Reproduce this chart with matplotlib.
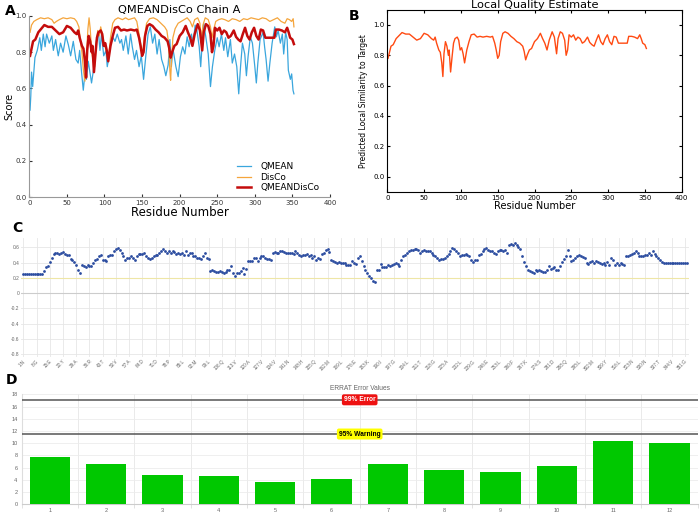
import numpy as np
import matplotlib
matplotlib.use('Agg')
import matplotlib.pyplot as plt

# ---- Panel A / B : per-residue quality ----
qd_res = [1, 2, 5, 8, 12, 16, 20, 25, 30, 35, 40, 45, 50, 55, 60, 63, 65, 67, 70, 72,
          74, 75.5, 77, 79, 81, 83, 84, 86, 88, 90, 92, 95, 97, 99, 101, 103, 105, 108, 111, 114,
          118, 122, 126, 130, 135, 140, 143, 146, 148, 150, 152, 154, 157, 160, 164, 168, 172, 176, 180, 184,
          186, 188, 190, 193, 196, 200, 204, 208, 211, 214, 217, 220, 224, 227, 230, 232, 235, 238, 241, 243,
          245, 247, 250, 253, 256, 259, 262, 265, 268, 272, 275, 278, 281, 284, 287, 290, 293, 296, 299, 302,
          305, 308, 311, 314, 318, 322, 326, 328, 332, 336, 340, 343, 345, 347, 350, 352]
qd_val = [0.78, 0.80, 0.86, 0.87, 0.91, 0.93, 0.95, 0.94, 0.94, 0.92, 0.90, 0.91, 0.945, 0.935, 0.91, 0.90, 0.92, 0.88, 0.835, 0.82,
          0.75, 0.66, 0.81, 0.89, 0.86, 0.80, 0.835, 0.69, 0.79, 0.88, 0.91, 0.92, 0.90, 0.835, 0.85, 0.81, 0.75, 0.835, 0.89, 0.935,
          0.94, 0.92, 0.925, 0.92, 0.925, 0.92, 0.925, 0.88, 0.835, 0.78, 0.80, 0.89, 0.945, 0.955, 0.945, 0.925, 0.91, 0.89, 0.88, 0.86,
          0.825, 0.77, 0.80, 0.835, 0.845, 0.89, 0.91, 0.945, 0.91, 0.88, 0.835, 0.90, 0.955, 0.92, 0.81, 0.91, 0.955, 0.945, 0.90, 0.80,
          0.835, 0.935, 0.92, 0.935, 0.90, 0.92, 0.91, 0.88, 0.89, 0.92, 0.885, 0.87, 0.86, 0.90, 0.935, 0.89, 0.87, 0.91, 0.935, 0.89,
          0.87, 0.925, 0.92, 0.88, 0.88, 0.88, 0.88, 0.925, 0.925, 0.92, 0.91, 0.935, 0.91, 0.88, 0.87, 0.845]

qmean_res = [1, 2, 3, 4.5, 7.5, 10.6, 14, 16, 18.6, 21, 23, 26.6, 30, 32, 35, 38.5, 41.6, 45, 48.7, 52,
             55, 58.5, 62, 65, 67, 69.5, 71.8, 74, 76, 78.4, 80.6, 82.8, 86, 89.5, 92, 94, 96, 99, 102, 103.7,
             105.4, 108, 111.6, 114, 117, 120.5, 122.7, 125, 128.5, 131.6, 134.7, 137, 140, 142.6, 146, 149, 152, 155, 158, 161,
             164, 167, 170, 172.7, 176, 179, 181.6, 184.7, 187, 189, 191, 195, 198, 201, 204, 207, 210, 212.6, 215.7, 218,
             220.6, 223, 226, 228, 230, 232, 234.8, 238, 241, 243.6, 246.7, 250, 252.5, 255.6, 258.7, 261, 264, 267.5, 270, 273,
             276, 278.6, 281, 283.5, 286.6, 288.8, 291, 294, 296.8, 300, 302, 304, 307, 311, 313, 315, 317.6, 320, 323, 326.5,
             328.7, 331, 334, 336.6, 338.4, 341, 343, 344.6, 347.3, 349, 350.8, 352]
qmean_val = [0.48, 0.56, 0.69, 0.61, 0.77, 0.81, 0.88, 0.81, 0.90, 0.83, 0.90, 0.85, 0.89, 0.81, 0.87, 0.78, 0.85, 0.80, 0.89, 0.84,
             0.78, 0.86, 0.76, 0.74, 0.81, 0.69, 0.59, 0.68, 0.65, 0.75, 0.69, 0.63, 0.72, 0.87, 0.91, 0.81, 0.90, 0.78, 0.81, 0.72,
             0.76, 0.84, 0.88, 0.86, 0.90, 0.85, 0.87, 0.81, 0.89, 0.79, 0.90, 0.83, 0.76, 0.81, 0.72, 0.78, 0.65, 0.78, 0.90, 0.94,
             0.85, 0.90, 0.79, 0.87, 0.76, 0.72, 0.67, 0.73, 0.87, 0.72, 0.82, 0.72, 0.665, 0.775, 0.83, 0.79, 0.885, 0.83, 0.90, 0.85,
             0.95, 0.92, 0.83, 0.72, 0.85, 0.96, 0.885, 0.79, 0.61, 0.72, 0.81, 0.88, 0.83, 0.90, 0.81, 0.88, 0.775, 0.87, 0.74, 0.79,
             0.72, 0.57, 0.72, 0.85, 0.79, 0.67, 0.775, 0.885, 0.85, 0.72, 0.63, 0.74, 0.87, 0.91, 0.83, 0.76, 0.64, 0.74, 0.85, 0.94,
             0.885, 0.92, 0.85, 0.90, 0.79, 0.91, 0.87, 0.70, 0.65, 0.68, 0.59, 0.57]

disco_res = [1, 3, 6, 10, 15, 20, 25, 30, 33, 36, 40, 45, 50, 55, 60, 63, 66, 68, 70, 72,
             74, 76, 78, 79.5, 81, 83, 85, 87, 89, 91, 93, 95, 97, 100, 103, 105, 108, 111, 114, 118,
             124, 128, 132, 136, 140, 143, 146, 149, 151, 153, 156, 160, 165, 170, 175, 180, 183, 185, 187, 188,
             189, 191, 194, 198, 202, 206, 210, 214, 217, 220, 224, 227, 229, 231, 234, 238, 241, 243, 245, 248,
             252, 256, 260, 265, 270, 275, 280, 285, 290, 295, 300, 305, 310, 315, 320, 325, 330, 335, 340, 343,
             346, 349, 351, 352]
disco_val = [0.91, 0.95, 0.97, 0.98, 0.99, 0.985, 0.99, 0.98, 0.96, 0.97, 0.98, 0.99, 0.985, 0.99, 0.985, 0.97, 0.94, 0.86, 0.80, 0.70,
             0.64, 0.78, 0.93, 0.99, 0.93, 0.80, 0.75, 0.72, 0.85, 0.92, 0.89, 0.94, 0.90, 0.84, 0.80, 0.75, 0.88, 0.96, 0.98, 0.99,
             0.98, 0.99, 0.98, 0.985, 0.99, 0.97, 0.90, 0.82, 0.80, 0.88, 0.96, 0.985, 0.99, 0.98, 0.96, 0.94, 0.92, 0.86, 0.70, 0.645,
             0.74, 0.88, 0.93, 0.96, 0.97, 0.98, 0.99, 0.97, 0.94, 0.98, 0.99, 0.96, 0.86, 0.95, 0.99, 0.98, 0.94, 0.88, 0.92, 0.97,
             0.98, 0.985, 0.98, 0.97, 0.985, 0.98, 0.97, 0.985, 0.98, 0.99, 0.985, 0.98, 0.99, 0.985, 0.97, 0.98, 0.99, 0.97, 0.96, 0.985,
             0.98, 0.97, 0.985, 0.94]

# ---- Panel C : averaged 3D-1D score per residue ----
c_vals = [0.25, 0.25, 0.25, 0.25, 0.25, 0.25, 0.25, 0.25, 0.25, 0.25, 0.25,
          0.29, 0.34, 0.355, 0.41, 0.465, 0.51, 0.53,
          0.53, 0.51, 0.52, 0.54, 0.51, 0.50, 0.50,
          0.45, 0.44, 0.41, 0.37, 0.30, 0.27, 0.37,
          0.355, 0.34, 0.37, 0.35, 0.35, 0.40, 0.43,
          0.445, 0.48, 0.50, 0.43, 0.43, 0.425, 0.48,
          0.495, 0.50, 0.545, 0.58, 0.585, 0.565, 0.53,
          0.48, 0.435, 0.455, 0.465, 0.48, 0.455, 0.435,
          0.48, 0.51, 0.51, 0.51, 0.53, 0.48, 0.455,
          0.445, 0.455, 0.49, 0.50, 0.50, 0.52, 0.545,
          0.575, 0.545, 0.52, 0.545, 0.53, 0.545, 0.535,
          0.51, 0.53, 0.51, 0.52, 0.50, 0.545, 0.50,
          0.53, 0.52, 0.48, 0.49, 0.465, 0.455, 0.445,
          0.49, 0.53, 0.455, 0.445, 0.295, 0.30, 0.295,
          0.28, 0.28, 0.29, 0.28, 0.27, 0.28, 0.30,
          0.30, 0.35, 0.27, 0.23, 0.26, 0.27, 0.29,
          0.325, 0.25, 0.31, 0.425, 0.425, 0.425, 0.455,
          0.455, 0.425, 0.455, 0.48, 0.49, 0.465, 0.45,
          0.445, 0.435, 0.53, 0.535, 0.53, 0.53, 0.545,
          0.545, 0.535, 0.52, 0.53, 0.52, 0.52, 0.51,
          0.545, 0.52, 0.50, 0.48, 0.50, 0.50, 0.51,
          0.48, 0.50, 0.455, 0.48, 0.435, 0.455, 0.445,
          0.51, 0.52, 0.565, 0.575, 0.535, 0.435, 0.425,
          0.405, 0.40, 0.41, 0.40, 0.39, 0.39, 0.37,
          0.37,
          0.37, 0.425, 0.39, 0.38, 0.455, 0.48, 0.425,
          0.35, 0.30, 0.27, 0.225, 0.195, 0.165, 0.15,
          0.30, 0.30, 0.38, 0.34, 0.34, 0.34, 0.37,
          0.355, 0.37, 0.38, 0.40, 0.38, 0.35, 0.435,
          0.485, 0.50, 0.53, 0.545, 0.565, 0.565, 0.575,
          0.575, 0.565, 0.53, 0.555, 0.565, 0.555, 0.545,
          0.545, 0.52, 0.50, 0.48, 0.455, 0.435, 0.445,
          0.45, 0.455, 0.48, 0.51, 0.545, 0.585, 0.575,
          0.545, 0.53, 0.48, 0.50, 0.50, 0.51, 0.50,
          0.48, 0.435, 0.41, 0.435, 0.435, 0.50, 0.51,
          0.545, 0.575, 0.585, 0.565, 0.555, 0.545, 0.52,
          0.51, 0.555, 0.565, 0.565, 0.555, 0.565, 0.53,
          0.63, 0.645, 0.63, 0.65, 0.63, 0.61, 0.575,
          0.48, 0.41, 0.35, 0.30, 0.295, 0.28, 0.27,
          0.30, 0.29, 0.30, 0.295, 0.28, 0.28, 0.30,
          0.35, 0.315, 0.325, 0.34, 0.30, 0.30, 0.355,
          0.41, 0.445, 0.485, 0.565, 0.485, 0.425, 0.435,
          0.455, 0.485, 0.50, 0.485, 0.47, 0.455, 0.39,
          0.38, 0.41, 0.425, 0.40, 0.425, 0.41, 0.39,
          0.38, 0.40, 0.37, 0.41, 0.37, 0.455, 0.435,
          0.37, 0.40, 0.37, 0.40, 0.38, 0.37, 0.48,
          0.485, 0.50, 0.51, 0.53, 0.545, 0.52, 0.485,
          0.48, 0.485, 0.50, 0.50, 0.52, 0.50, 0.545,
          0.51, 0.48, 0.455, 0.435, 0.41, 0.40, 0.39,
          0.39, 0.39, 0.39, 0.39, 0.39, 0.39, 0.39, 0.39, 0.39, 0.39, 0.39]
c_tick_labels = ["1:N", "8:G", "15:E", "22:Y", "29:A", "36:R", "43:T", "50:V", "57:A", "64:D",
                 "71:D", "78:P", "85:L", "92:M", "99:L", "106:Q", "113:V", "120:A", "127:V", "134:V",
                 "141:N", "148:H", "155:Q", "162:M", "169:L", "176:E", "183:K", "190:I", "197:G", "204:L",
                 "211:T", "218:G", "225:A", "232:L", "239:G", "246:E", "253:L", "260:F", "267:K", "274:S",
                 "281:D", "288:Q", "295:L", "302:M", "309:Y", "316:L", "323:N", "330:N", "337:T", "344:V",
                 "351:G"]

# ---- Panel D : ERRAT ----
errat_labels = ["1", "2", "3", "4", "5", "6", "7", "8", "9", "10", "11", "12"]
errat_vals = [7.7, 6.6, 4.75, 4.6, 3.7, 4.15, 6.55, 5.6, 5.25, 6.2, 10.3, 10.05]
errat_err = 17.1
errat_warn = 11.5

W, H = 700, 514
fig = plt.figure(figsize=(7, 5.14), dpi=100)


def box(x0, x1, ytop, ybot):
    return [x0 / W, (H - ybot) / H, (x1 - x0) / W, (ybot - ytop) / H]


# Panel A
axA = fig.add_axes(box(29.3, 330, 16, 197))
axA.plot(qmean_res, qmean_val, color='#3aa6dd', lw=0.9, label='QMEAN')
axA.plot(disco_res, disco_val, color='#f5a53c', lw=0.9, label='DisCo')
axA.plot(qd_res, qd_val, color='#c40c0c', lw=1.8, label='QMEANDisCo')
axA.set_xlim(0, 400)
axA.set_ylim(0, 1.0)
axA.set_xticks(np.arange(0, 401, 50))
axA.set_yticks(np.arange(0, 1.01, 0.2))
axA.set_yticklabels([f'{v:.1f}' for v in np.arange(0, 1.01, 0.2)])
for s in ['top', 'right']:
    axA.spines[s].set_visible(False)
for s in ['left', 'bottom']:
    axA.spines[s].set_color('#999999')
axA.tick_params(direction='in', length=2.5, labelsize=5, colors='#333333', pad=2)
axA.set_title('QMEANDisCo Chain A', fontsize=8.2, pad=2)
axA.set_ylabel('Score', fontsize=7, labelpad=1, family='Liberation Sans Narrow')
axA.set_xlabel('Residue Number', fontsize=8.5, labelpad=0)
axA.legend(loc='lower right', frameon=False, fontsize=6.5, handlelength=1.6,
           borderaxespad=0.1, labelspacing=0.2, handletextpad=1.0,
           bbox_to_anchor=(0.98, 0.0))

# Panel B
axB = fig.add_axes(box(387.3, 681.7, 9.8, 191.8))
axB.plot(qd_res, qd_val, color='#ff4a12', lw=1.0)
axB.set_xlim(0, 400)
axB.set_ylim(-0.1, 1.1)
axB.set_xticks(np.arange(0, 401, 50))
axB.set_yticks(np.arange(0, 1.01, 0.2))
axB.set_yticklabels([f'{v:.1f}' for v in np.arange(0, 1.01, 0.2)])
axB.tick_params(direction='in', length=2.5, labelsize=5, top=True, right=True, pad=2)
axB.set_title('Local Quality Estimate', fontsize=8.2, pad=1)
axB.set_ylabel('Predicted Local Similarity to Target', fontsize=5.5, labelpad=4)
axB.set_xlabel('Residue Number', fontsize=7, labelpad=0)

# Panel C
res_c = np.arange(1, len(c_vals) + 1)
axC = fig.add_axes(box(21.4, 688.6, 238.1, 356.6))
axC.set_xlim(0, 353)
axC.set_ylim(-0.83, 0.72)
axC.set_xticks(np.arange(1, 352, 7))
axC.set_xticklabels(c_tick_labels, rotation=45, ha='right', rotation_mode='anchor',
                    fontsize=3.3, color='#666666', family='Liberation Sans')
yt = np.round(np.arange(-0.8, 0.61, 0.2), 1)
axC.set_yticks(yt)
axC.set_yticklabels(['0' if v == 0 else f'{v:g}' for v in yt], fontsize=3.5,
                    color='#666666', family='Liberation Sans')
axC.grid(True, color='#e6e6e6', lw=0.6)
axC.set_axisbelow(True)
axC.axhline(0, color='#cccccc', lw=0.8, zorder=1)
axC.axhline(0.2, color='#eee6a6', lw=0.8, zorder=1)
axC.scatter(res_c, c_vals, s=4, color='#2c4da0', zorder=3, linewidths=0)
for s in axC.spines.values():
    s.set_visible(False)
axC.tick_params(length=0, pad=1.5)

# Panel D
axD = fig.add_axes(box(21.7, 697.7, 394.3, 504.3))
xd = np.arange(1, len(errat_vals) + 1)
axD.bar(xd, errat_vals, width=0.72, color='#00c800', zorder=3)
axD.set_xlim(0.5, 12.5)
axD.set_ylim(0, 18)
axD.set_xticks(xd)
axD.set_xticklabels(errat_labels, fontsize=4, color='#666666', family='Liberation Sans')
axD.set_yticks(np.arange(0, 19, 2))
axD.set_yticklabels([str(v) for v in range(0, 19, 2)], fontsize=4, color='#666666',
                    family='Liberation Sans')
axD.set_xticks(np.arange(0.5, 12.6, 1), minor=True)
axD.grid(True, which='minor', axis='x', color='#e6e6e6', lw=0.6)
axD.grid(True, which='major', axis='y', color='#ececec', lw=0.6)
axD.set_axisbelow(True)
axD.tick_params(which='major', length=0, pad=3)
axD.tick_params(which='minor', length=3, color='#dddddd')
for s in ['top', 'right']:
    axD.spines[s].set_visible(False)
axD.spines['left'].set_color('#dddddd')
axD.spines['bottom'].set_color('#cccccc')
axD.axhline(errat_err, color='#555555', lw=1.1, zorder=4)
axD.axhline(errat_warn, color='#555555', lw=1.1, zorder=4)
axD.text(6.5, errat_err, '99% Error', ha='center', va='center', fontsize=4.8,
         fontweight='bold', color='white', family='Liberation Sans', zorder=5,
         bbox=dict(boxstyle='round,pad=0.3', fc='#ee1111', ec='none'))
axD.text(6.5, errat_warn, '95% Warning', ha='center', va='center', fontsize=4.8,
         fontweight='bold', color='black', family='Liberation Sans', zorder=5,
         bbox=dict(boxstyle='round,pad=0.3', fc='#ffff00', ec='none'))
axD.set_title('ERRAT Error Values', fontsize=4.8, color='#666666', pad=3,
              family='Liberation Sans')

# panel letters
fig.text(5 / W, 1 - 11 / H, 'A', fontsize=10, fontweight='bold', va='center')
fig.text(349 / W, 1 - 16 / H, 'B', fontsize=10, fontweight='bold', va='center')
fig.text(12 / W, 1 - 228 / H, 'C', fontsize=10, fontweight='bold', va='center')
fig.text(6 / W, 1 - 380 / H, 'D', fontsize=10, fontweight='bold', va='center')

plt.savefig('out.png', dpi=100)
